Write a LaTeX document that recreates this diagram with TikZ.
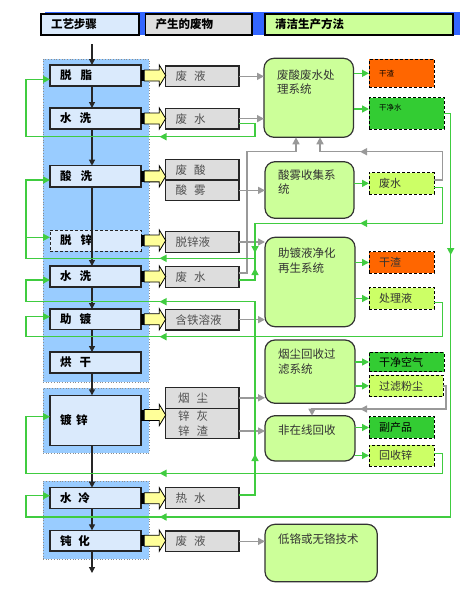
\documentclass[tikz,border=0pt]{standalone}
\usepackage{fontspec}
\setmainfont{Noto Sans CJK SC}
\usetikzlibrary{arrows.meta,calc}
\definecolor{stepblue}{HTML}{DAEAFC}
\definecolor{panelblue}{HTML}{99CCFF}
\definecolor{hdrblue}{HTML}{3366FF}
\definecolor{wastegray}{HTML}{DDDDDD}
\definecolor{sysgreen}{HTML}{CCFF99}
\definecolor{resorange}{HTML}{FF6600}
\definecolor{resdgreen}{HTML}{33CC33}
\definecolor{reslgreen}{HTML}{CCFF66}
\definecolor{linegreen}{HTML}{40CC40}
\definecolor{linegray}{HTML}{999999}
\definecolor{yellowfill}{HTML}{FFFF99}
\definecolor{txtgray}{HTML}{505050}
\definecolor{txtdark}{HTML}{333333}
\newcommand{\fnt}{\fontsize{11.5}{14.5}\selectfont}
\newcommand{\yarr}[1]{%
  \fill[black] (#1) ++(0,-5.5) rectangle ++(3.3,11);
  \draw[fill=yellowfill, line width=0.8pt, line join=miter] (#1) ++(3.3,-5.5) -- ++(15,0) -- ++(0,-5) -- ++(6.4,10.5) -- ++(-6.4,10.5) -- ++(0,-5) -- ++(-15,0) -- cycle;}
\begin{document}
\begin{tikzpicture}[x=1pt,y=-1pt,
  every node/.style={inner sep=0pt, outer sep=0pt},
  panel/.style={anchor=north west, fill=panelblue, draw=black!45, dotted, line width=0.7pt},
  hdr/.style={anchor=north west, draw=black, line width=1.2pt, minimum height=21pt, inner xsep=10pt, align=left, font=\fnt\bfseries},
  stepbox/.style={anchor=north west, draw=black!85, line width=1.2pt, fill=stepblue, minimum height=#1pt, text width=71pt, inner xsep=10pt, align=left, font=\fnt\bfseries},
  wastebox/.style={anchor=north west, draw=black!85, line width=1.2pt, fill=wastegray, minimum height=#1pt, text width=53.3pt, inner xsep=10pt, align=left, text=txtgray, font=\fnt},
  sysbox/.style={anchor=north west, draw=black!80, line width=1.2pt, fill=sysgreen, rounded corners=10pt},
  systext/.style={anchor=north west, align=left, text=txtdark, font=\fnt},
  resbox/.style={anchor=north west, draw=black, line width=1pt, dash pattern=on 3pt off 2pt, minimum height=#1pt, inner xsep=10pt, align=left, text=txtdark, font=\fontsize{11}{13}\selectfont},
  blk/.style={draw=black!85, line width=1.2pt, -{Triangle[length=6pt,width=6pt]}},
  gar/.style={draw=linegray, line width=1.5pt, -{Triangle[length=7pt,width=7pt]}},
  gre/.style={draw=linegreen, line width=1.5pt, -{Triangle[length=7pt,width=7pt]}},
  grl/.style={draw=linegreen, line width=1.5pt},
]
\useasboundingbox (0,0) rectangle (465,598);
% header
\fill[hdrblue] (45,12) rectangle (460,35);
\node[hdr, fill=stepblue, text width=78pt] (h1) at (41,14) {工艺步骤};
\node[hdr, fill=wastegray, text width=86.5pt] (h2) at (145.5,14) {产生的废物};
\node[hdr, fill=sysgreen, text width=168pt] (h3) at (265,14) {清洁生产方法};
% panels
\node[panel, minimum width=106pt, minimum height=323pt] (p1) at (43,59) {};
\node[panel, minimum width=106pt, minimum height=65pt] (p2) at (43,388) {};
\node[panel, minimum width=106pt, minimum height=78pt] (p3) at (43,481) {};
% steps
\node[stepbox=21] (s1) at (50,65) {脱\hspace{0.8em}脂};
\node[stepbox=21] (s2) at (50,108) {水\hspace{0.7em}洗};
\node[stepbox=21.3] (s3) at (50,165.7) {酸\hspace{0.8em}洗};
\node[stepbox=21, dash pattern=on 3pt off 2pt, line width=1pt] (s4) at (50,230) {脱\hspace{0.8em}锌};
\node[stepbox=21] (s5) at (50,266) {水\hspace{0.7em}洗};
\node[stepbox=20.5] (s6) at (50,309) {助\hspace{0.7em}镀};
\node[stepbox=21] (s7) at (50,352) {烘\hspace{0.7em}干};
\node[stepbox=50.4] (s8) at (50,395.3) {镀\hspace{0.4em}锌};
\node[stepbox=21] (s9) at (50,487.7) {水\hspace{0.6em}冷};
\node[stepbox=20.7] (s10) at (50,530.3) {钝\hspace{0.6em}化};
% wastes
\node[wastebox=20.7] (w1) at (165.7,66) {废\hspace{0.6em}液};
\node[wastebox=20.7] (w2) at (165.7,108.3) {废\hspace{0.6em}水};
\node[wastebox=20.7] (w3a) at (165.7,159.3) {废\hspace{0.6em}酸};
\node[wastebox=20.7] (w3b) at (165.7,180) {酸\hspace{0.6em}雾};
\node[wastebox=21] (w4) at (165.7,231.5) {脱锌液};
\node[wastebox=20.6] (w5) at (165.7,266.7) {废\hspace{0.6em}水};
\node[wastebox=20.7] (w6) at (165.7,309.3) {含铁溶液};
\node[wastebox=21] (w8a) at (165.7,387.3) {\hspace{2.5pt}烟\hspace{0.6em}尘};
\node[wastebox=30, font=\fontsize{11.5}{15}\selectfont] (w8b) at (165.7,408.3) {\hspace{2.5pt}锌\hspace{0.6em}灰\\\hspace{2.5pt}锌\hspace{0.6em}渣};
\node[wastebox=20.6] (w9) at (165.7,487.7) {热\hspace{0.6em}水};
\node[wastebox=20.7] (w10) at (165.7,531) {废\hspace{0.6em}液};
% systems
\node[sysbox, minimum width=89.5pt, minimum height=79pt] (c1) at (264,58.3) {};
\node[systext] (c1t) at ($(c1.north west)+(13,11.5)$) {废酸废水处\\理系统};
\node[sysbox, minimum width=89pt, minimum height=56.6pt] (c2) at (265,161.7) {};
\node[systext] (c2t) at ($(c2.north west)+(13,8.1)$) {酸雾收集系\\统};
\node[sysbox, minimum width=90pt, minimum height=89.4pt] (c3) at (265,237.3) {};
\node[systext] (c3t) at ($(c3.north west)+(13,10.8)$) {助镀液净化\\再生系统};
\node[sysbox, minimum width=90pt, minimum height=63.3pt] (c4) at (265,340) {};
\node[systext] (c4t) at ($(c4.north west)+(13,9.1)$) {烟尘回收过\\滤系统};
\node[sysbox, minimum width=90pt, minimum height=45.3pt] (c5) at (265,415.7) {};
\node[systext] (c5t) at ($(c5.north west)+(13,9.1)$) {非在线回收};
\node[sysbox, minimum width=112.3pt, minimum height=57.4pt] (c6) at (265,524.3) {};
\node[systext] (c6t) at ($(c6.north west)+(13,9.5)$) {低铬或无铬技术};
% results
\node[resbox=28, fill=resorange, text width=45.3pt, font=\fontsize{7.5}{9}\selectfont, text=black] (r1) at (369,59.3) {干渣};
\node[resbox=31.6, fill=resdgreen, text width=55pt, font=\fontsize{7.5}{9}\selectfont, text=black] (r2) at (369,97.7) {\raisebox{2.6pt}[0pt][0pt]{干净水}};
\node[resbox=21.3, fill=reslgreen, text width=45pt] (r3) at (369,172.7) {废水};
\node[resbox=21.6, fill=resorange, text width=45pt] (r4) at (369,251.7) {干渣};
\node[resbox=21.6, fill=reslgreen, text width=45pt] (r5) at (369,287.7) {处理液};
\node[resbox=19.4, fill=resdgreen, text width=55pt, text=black] (r6) at (369,352.3) {干净空气};
\node[resbox=21.7, fill=reslgreen, text width=54pt] (r7) at (369,375) {过滤粉尘};
\node[resbox=21.6, fill=resdgreen, text width=45pt, text=black] (r8) at (369,416.7) {副产品};
\node[resbox=21, fill=reslgreen, text width=45pt] (r9) at (369,445) {回收锌};
% yellow block arrows
\yarr{s1.east}
\yarr{s2.east}
\yarr{s3.east}
\yarr{s4.east}
\yarr{s5.east}
\yarr{s6.east}
\yarr{$(s8.east)+(0,-5.5)$}
\yarr{s9.east}
\yarr{s10.east}
% main flow
\coordinate (ax) at (92,0);
\coordinate (topc) at (92,44);
\coordinate (botc) at (92,573);
\draw[blk] (topc) -- (s1.north -| ax);
\draw[blk] (s1.south -| ax) -- (s2.north -| ax);
\draw[blk] (s2.south -| ax) -- (s3.north -| ax);
\draw[blk] (s3.south -| ax) -- (s5.north -| ax);
\draw[blk] (s5.south -| ax) -- (s6.north -| ax);
\draw[blk] (s6.south -| ax) -- (s7.north -| ax);
\draw[blk] (s7.south -| ax) -- (s8.north -| ax);
\draw[blk] (s8.south -| ax) -- (s9.north -| ax);
\draw[blk] (s9.south -| ax) -- (s10.north -| ax);
\draw[blk] (s10.south -| ax) -- (botc);
% gray: waste -> system
\draw[gar] (w1.east) -- (w1.east -| c1.west);
\draw[gar] (w2.east) -- (w2.east -| c1.west);
\draw[gar] (w3b.east) -- (w3b.east -| c2.west);
\draw[gar] (w4.east) -- (w4.east -| c3.west);
\draw[gar] (w6.east) -- (w6.east -| c3.west);
\draw[gar] (w8a.east) -- (w8a.east -| c4.west);
\coordinate (w8bo) at ($(w8b.east)+(0,7.7)$);
\draw[gar] (w8bo) -- (w8bo -| c5.west);
\draw[gar] (w10.east) -- (w10.east -| c6.west);
% gray routes
\draw[gar] ($(w5.east)+(0,-4)$) -| (247,151.7) -| ($(c1.south west)+(32,0)$);
\draw[gar] ($(r3.east)+(0,-3.4)$) -| (442.5,151.7) -| ($(c1.south west)+(56,0)$);
\draw[gar] (372,151.7) -- (360,151.7);
\draw[gar] (r7.east) -| (446,409) -| ($(c5.north west)+(47,0)$);
\draw[gar] (372,409) -- (360,409);
% green: system -> result
\draw[gre] (r1.west -| c1.east) -- (r1.west);
\coordinate (r2a) at ($(r2.west)+(0,-4.5)$);
\draw[gre] (r2a -| c1.east) -- (r2a);
\draw[gre] (r3.west -| c2.east) -- (r3.west);
\draw[gre] (r4.west -| c3.east) -- (r4.west);
\draw[gre] (r5.west -| c3.east) -- (r5.west);
\draw[gre] (r6.west -| c4.east) -- (r6.west);
\draw[gre] (r7.west -| c4.east) -- (r7.west);
\draw[gre] (r8.west -| c5.east) -- (r8.west);
\draw[gre] (r9.west -| c5.east) -- (r9.west);
% green feedback routes
\coordinate (g1) at (26,79.3);
\draw[gre] ($(w2.east)+(0,4.6)$) -| (255,136.7) -| (g1) -- (g1 -| s1.west);
\draw[gre] (168,136.7) -- (159.5,136.7);
\coordinate (g3) at (26,180);
\coordinate (g4) at (26,237.3);
\draw[gre] ($(r3.east)+(0,4.3)$) -| (442.5,223.3) -| (255,258.3) -| (g3) -- (g3 -| s3.west);
\draw[gre] (g4) -- (g4 -| s4.west);
\draw[gre] (372,223.3) -- (360,223.3);
\draw[gre] (255,244) -- (255,253);
\draw[gre] (168,258.3) -- (159.5,258.3);
\draw[grl] ($(w5.east)+(0,3)$) -| (255,258.3);
\draw[gre] (255,278) -- (255,268);
\coordinate (g5) at (26,280);
\draw[gre] ($(w9.east)+(0,-3)$) -| (255,301.7) -| (g5) -- (g5 -| s5.west);
\draw[gre] (255,464) -- (255,454);
\draw[gre] (168,301.7) -- (159.5,301.7);
\coordinate (g6) at (26,316.7);
\draw[gre] ($(r5.east)+(0,3.8)$) -| (442.7,336.7) -| (g6) -- (g6 -| s6.west);
\draw[gre] (168,336.7) -- (159.5,336.7);
\coordinate (g8) at (26,416.7);
\draw[gre] ($(r9.east)+(0,-2.2)$) -| (442.7,473.3) -| (g8) -- (g8 -| s8.west);
\draw[gre] (168,473.3) -- (159.5,473.3);
\coordinate (g9) at (26,495.7);
\draw[gre] (r2.east) -| (450.7,517) -| (g9) -- (g9 -| s9.west);
\draw[gre] (450.7,246) -- (450.7,255);
\draw[gre] (168,517) -- (159.5,517);
\end{tikzpicture}
\end{document}
